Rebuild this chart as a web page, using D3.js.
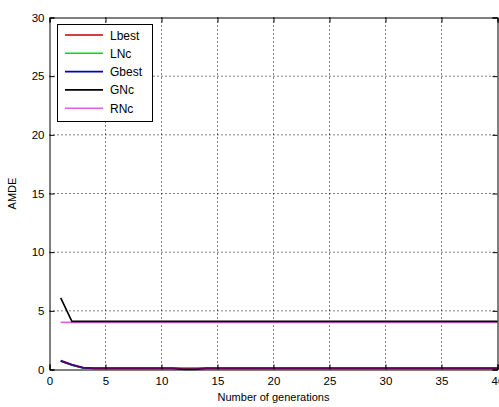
<!DOCTYPE html>
<html><head><meta charset="utf-8">
<script src="https://cdn.jsdelivr.net/npm/d3@7"></script>
<style>body{margin:0;background:#fff}svg text{font-family:"Liberation Sans",Arial,sans-serif;font-size:11px;fill:#000}</style>
</head><body><svg id="c" width="499" height="407"></svg>
<script>
const generations = [1,2,3,4,5,6,7,8,9,10,11,12,13,14,15,16,17,18,19,20,21,22,23,24,25,26,27,28,29,30,31,32,33,34,35,36,37,38,39,40];
const Lbest = [0.72,0.38,0.15,0.12,0.12,0.12,0.12,0.12,0.12,0.12,0.12,0.12,0.12,0.12,0.12,0.12,0.12,0.12,0.12,0.12,0.12,0.12,0.12,0.12,0.12,0.12,0.12,0.12,0.12,0.12,0.12,0.12,0.12,0.12,0.12,0.12,0.12,0.12,0.12,0.12];
const LNc = [0.7,0.36,0.14,0.1,0.1,0.1,0.1,0.1,0.1,0.1,0.1,0.1,0.1,0.1,0.1,0.1,0.1,0.1,0.1,0.1,0.1,0.1,0.1,0.1,0.1,0.1,0.1,0.1,0.1,0.1,0.1,0.1,0.1,0.1,0.1,0.1,0.1,0.1,0.1,0.1];
const Gbest = [0.75,0.4,0.15,0.1,0.1,0.1,0.1,0.1,0.1,0.1,0.1,0.03,0.03,0.1,0.1,0.1,0.1,0.1,0.1,0.1,0.1,0.1,0.1,0.1,0.1,0.1,0.1,0.1,0.1,0.1,0.1,0.1,0.1,0.1,0.1,0.1,0.1,0.1,0.1,0.1];
const GNc = [6.1,4.1,4.1,4.1,4.1,4.1,4.1,4.1,4.1,4.1,4.1,4.1,4.1,4.1,4.1,4.1,4.1,4.1,4.1,4.1,4.1,4.1,4.1,4.1,4.1,4.1,4.1,4.1,4.1,4.1,4.1,4.1,4.1,4.1,4.1,4.1,4.1,4.1,4.1,4.1];
const RNc = [4.02,4.02,4.02,4.02,4.02,4.02,4.02,4.02,4.02,4.02,4.02,4.02,4.02,4.02,4.02,4.02,4.02,4.02,4.02,4.02,4.02,4.02,4.02,4.02,4.02,4.02,4.02,4.02,4.02,4.02,4.02,4.02,4.02,4.02,4.02,4.02,4.02,4.02,4.02,4.02];
const xTicks = [0,5,10,15,20,25,30,35,40];
const yTicks = [0,5,10,15,20,25,30];
const seriesNames = ["Lbest","LNc","Gbest","GNc","RNc"];
const seriesColors = ["#c00000","#00e000","#0000c0","#000000","#e060e0"];
const seriesData = [Lbest,LNc,Gbest,GNc,RNc];
const drawOrder = [1,2,0,4,3];
const drawOpacity = [0.55,1,1,1,1];

const L=49.5,T=17.5,R=497.5,B=369.5;
const svg=d3.select("#c");
const x=d3.scaleLinear().domain([0,40]).range([L,R]);
const y=d3.scaleLinear().domain([0,30]).range([B,T]);

// grid
const g=svg.append("g");
g.selectAll(".gx").data(xTicks.filter(d=>d>0&&d<40)).enter().append("line")
 .attr("x1",d=>x(d)).attr("x2",d=>x(d)).attr("y1",T).attr("y2",B)
 .attr("stroke","#000").attr("stroke-width",1).attr("stroke-dasharray","1,3");
g.selectAll(".gy").data(yTicks.filter(d=>d>0&&d<30)).enter().append("line")
 .attr("y1",d=>y(d)).attr("y2",d=>y(d)).attr("x1",L).attr("x2",R)
 .attr("stroke","#000").attr("stroke-width",1).attr("stroke-dasharray","1,3");

// lines
const line=d3.line().x((d,i)=>x(generations[i])).y(d=>y(d));
drawOrder.forEach(k=>{
  svg.append("path").datum(seriesData[k]).attr("d",line).attr("fill","none")
   .attr("stroke",seriesColors[k]).attr("stroke-width",k===2?2:1.6)
   .attr("stroke-opacity",drawOpacity[k]);
});

// axes
svg.append("g").attr("transform",`translate(0,${B})`)
 .call(d3.axisBottom(x).tickValues(xTicks).tickSize(-5).tickPadding(7).tickFormat(d3.format("d")));
svg.append("g").attr("transform",`translate(0,${T})`)
 .call(d3.axisTop(x).tickValues(xTicks).tickSize(-5).tickFormat(""));
svg.append("g").attr("transform",`translate(${L},0)`)
 .call(d3.axisLeft(y).tickValues(yTicks).tickSize(-5).tickPadding(5).tickFormat(d3.format("d")));
svg.append("g").attr("transform",`translate(${R},0)`)
 .call(d3.axisRight(y).tickValues(yTicks).tickSize(-5).tickFormat(""));
svg.selectAll(".domain").attr("stroke","#000");
svg.selectAll(".tick line").attr("stroke","#000");
svg.selectAll(".tick text").style("font-size","11.5px").attr("fill","#000");
svg.selectAll("g").attr("font-family",null).attr("font-size",null);

// labels
svg.append("text").attr("x",(L+R)/2).attr("y",401).attr("text-anchor","middle").text("Number of generations");
svg.append("text").attr("transform",`translate(16,${(T+B)/2}) rotate(-90)`).attr("text-anchor","middle").text("AMDE");

// legend
const lg=svg.append("g");
lg.append("rect").attr("x",57.5).attr("y",24.5).attr("width",95).attr("height",97)
 .attr("fill","#fff").attr("stroke","#000").attr("stroke-width",1);
seriesNames.forEach((n,i)=>{
  const yy=35+i*18.3;
  lg.append("line").attr("x1",65).attr("x2",103).attr("y1",yy).attr("y2",yy)
   .attr("stroke",seriesColors[i]).attr("stroke-width",1.6);
  lg.append("text").attr("x",110).attr("y",yy+4.5).style("font-size","12px").text(n);
});
</script></body></html>
